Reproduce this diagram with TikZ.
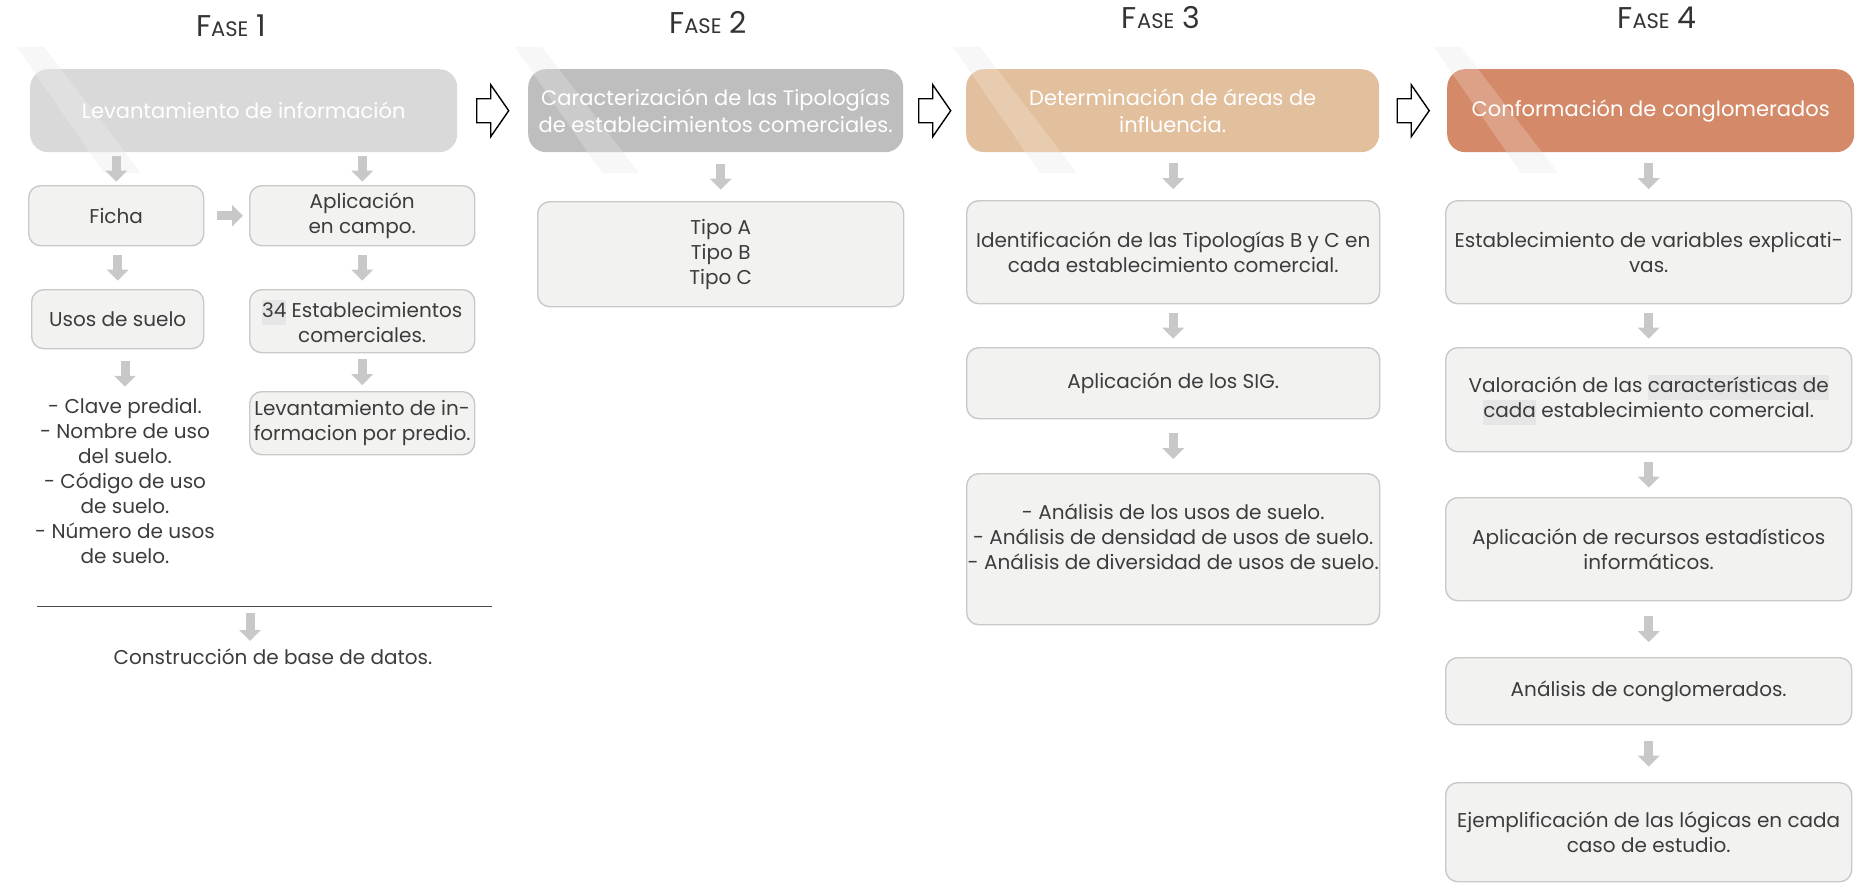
\documentclass[tikz,border=0pt]{standalone}
\usepackage{fontspec}
\setmainfont{Poppins}
\usepackage{xcolor}
\usepackage{tikz}
\usetikzlibrary{calc,arrows.meta}
\definecolor{headA}{HTML}{D9D9D9}
\definecolor{headB}{HTML}{BEBEBE}
\definecolor{headC}{HTML}{E2C09D}
\definecolor{headD}{HTML}{D48A69}
\definecolor{boxfill}{HTML}{F2F2F1}
\definecolor{boxline}{HTML}{C9C9C9}
\definecolor{arrgray}{HTML}{C8C8C8}
\definecolor{txtgray}{HTML}{3C3C3C}
\definecolor{hlgray}{HTML}{E6E6E6}
\newcommand{\bodyfont}{\fontsize{20}{25}\selectfont}
\newcommand{\fasetitle}[1]{F{\fontsize{21}{21}\selectfont ASE}~#1}
\newcommand{\markbg}[1]{{\setlength{\fboxsep}{0pt}\colorbox{hlgray}{\strut #1}}}

\begin{document}
\begin{tikzpicture}[x=1pt,y=-1pt,
		dims/.style 2 args={minimum width=#1pt,minimum height=#2pt},
		head/.style={rounded corners=18pt,fill=#1,text=white,align=center,
			font=\fontsize{21}{27}\selectfont,inner sep=0pt,anchor=north west},
		sub/.style={draw=boxline,fill=boxfill,line width=1.4pt,rounded corners=12pt,
			align=center,text=txtgray,font=\bodyfont,inner sep=0pt,anchor=north west},
		plain/.style={align=center,text=txtgray,font=\bodyfont,inner sep=0pt},
		fase/.style={text=black!80,font=\fontsize{30}{30}\selectfont,inner sep=0pt,anchor=base},
		downarr/.style={draw=arrgray,line width=9pt,-{Triangle[width=21pt,length=11pt]}},
		streak/.style={fill=black!3},
		gloss/.style={fill=white,opacity=.2},
		openarr/.pic={\draw[line width=1.4pt,fill=white,line join=miter]
			(-16,-12) -- (-2,-12) -- (-2,-26) -- (16,0) -- (-2,26) -- (-2,12) -- (-16,12) -- cycle;}]
	\useasboundingbox (0,0) rectangle (1856,883);
	% faint streaks behind the headers
	\foreach \L in {30,528,966,1447}
	\fill[streak] ({\L-13},47) -- ({\L+14},47) -- ({\L+111},173) -- ({\L+74},173) -- cycle;
	% titles
	\node[fase] (f1) at (231,37) {\fasetitle{1}};
	\node[fase] (f2) at (708,34) {\fasetitle{2}};
	\node[fase] (f3) at (1161,29) {\fasetitle{3}};
	\node[fase] (f4) at (1657,29) {\fasetitle{4}};
	% headers
	\node[head=headA,dims={427}{83}] (h1) at (30,69) {Levantamiento de información};
	\node[head=headB,dims={375}{83}] (h2) at (528,69) {Caracterización de las Tipologías\\de establecimientos comerciales.};
	\node[head=headC,dims={413}{83}] (h3) at (966,69) {Determinación de áreas de\\influencia.};
	\node[head=headD,dims={407}{83}] (h4) at (1447,69) {Conformación de conglomerados};
	\foreach \h/\L in {h1/30,h2/528,h3/966,h4/1447} {
		\begin{scope}
			\clip[rounded corners=18pt] (\h.north west) rectangle (\h.south east);
			\fill[gloss] ({\L-13},47) -- ({\L+14},47) -- ({\L+111},173) -- ({\L+74},173) -- cycle;
		\end{scope}
	}
	\foreach \a/\b in {h1/h2,h2/h3,h3/h4}
	\pic at ($(\a.east)!.5!(\b.west)$) {openarr};
	% fase 1
	\node[sub,dims={175}{60}] (ficha) at (28,185) {Ficha};
	\node[sub,dims={225}{60}] (aplic) at (249,185) {Aplicación\\en campo.};
	\node[sub,dims={172}{59}] (usos) at (31,289) {Usos de suelo};
	\node[sub,dims={225}{63}] (estab) at (249,289) {\markbg{34} Establecimientos\\comerciales.};
	\node[sub,dims={225}{63}] (levinf) at (249,391) {Levantamiento de in-\\formacion por predio.};
	\node[plain] (usolist) at (125,481) {- Clave predial.\\- Nombre de uso\\del suelo.\\- Código de uso\\de suelo.\\- Número de usos\\de suelo.};
	\draw[black!70,line width=1pt] (37,606) -- (492,606);
	\coordinate (ln) at (250,606);
	\node[plain,anchor=base] (constr) at (273,664) {Construcción de base de datos.};
	\draw[downarr,shorten >=7pt] ([yshift=-7pt]ln) -- (constr.north -| ln);
	\draw[downarr,shorten <=13pt,shorten >=6pt] (ficha.east) -- (aplic.west);
	% fase 2
	\node[sub,dims={366}{105}] (tipos) at (537,201) {Tipo A\\Tipo B\\Tipo C};
	% fase 3
	\node[sub,dims={413}{103}] (ident) at (966,200) {Identificación de las Tipologías B y C en\\cada establecimiento comercial.};
	\node[sub,dims={413}{71}] (sig) at (966,347) {Aplicación de los SIG.};
	\node[sub,dims={413}{151}] (anal) at (966,473) {- Análisis de los usos de suelo.\\- Análisis de densidad de usos de suelo.\\- Análisis de diversidad de usos de suelo.\\~};
	% fase 4
	\node[sub,dims={406}{103}] (vars) at (1445,200) {Establecimiento de variables explicati-\\vas.};
	\node[sub,dims={406}{104}] (valor) at (1445,347) {Valoración de las \markbg{características de}\\\markbg{cada} establecimiento comercial.};
	\node[sub,dims={406}{103}] (recur) at (1445,497) {Aplicación de recursos estadísticos\\informáticos.};
	\node[sub,dims={406}{67}] (clust) at (1445,657) {Análisis de conglomerados.};
	\node[sub,dims={406}{99}] (ejemp) at (1445,782) {Ejemplificación de las lógicas en cada\\caso de estudio.};
	% down arrows between steps
	\foreach \a/\b in {h1/ficha,h1/aplic,ficha/usos,aplic/estab,usos/usolist,estab/levinf,
		h2/tipos,h3/ident,ident/sig,sig/anal,h4/vars,vars/valor,valor/recur,recur/clust,clust/ejemp}
	\draw[downarr] ($(\a.south -| \b.north)!.5!(\b.north)+(0,-13)$) -- ($(\a.south -| \b.north)!.5!(\b.north)+(0,13)$);
\end{tikzpicture}
\end{document}
